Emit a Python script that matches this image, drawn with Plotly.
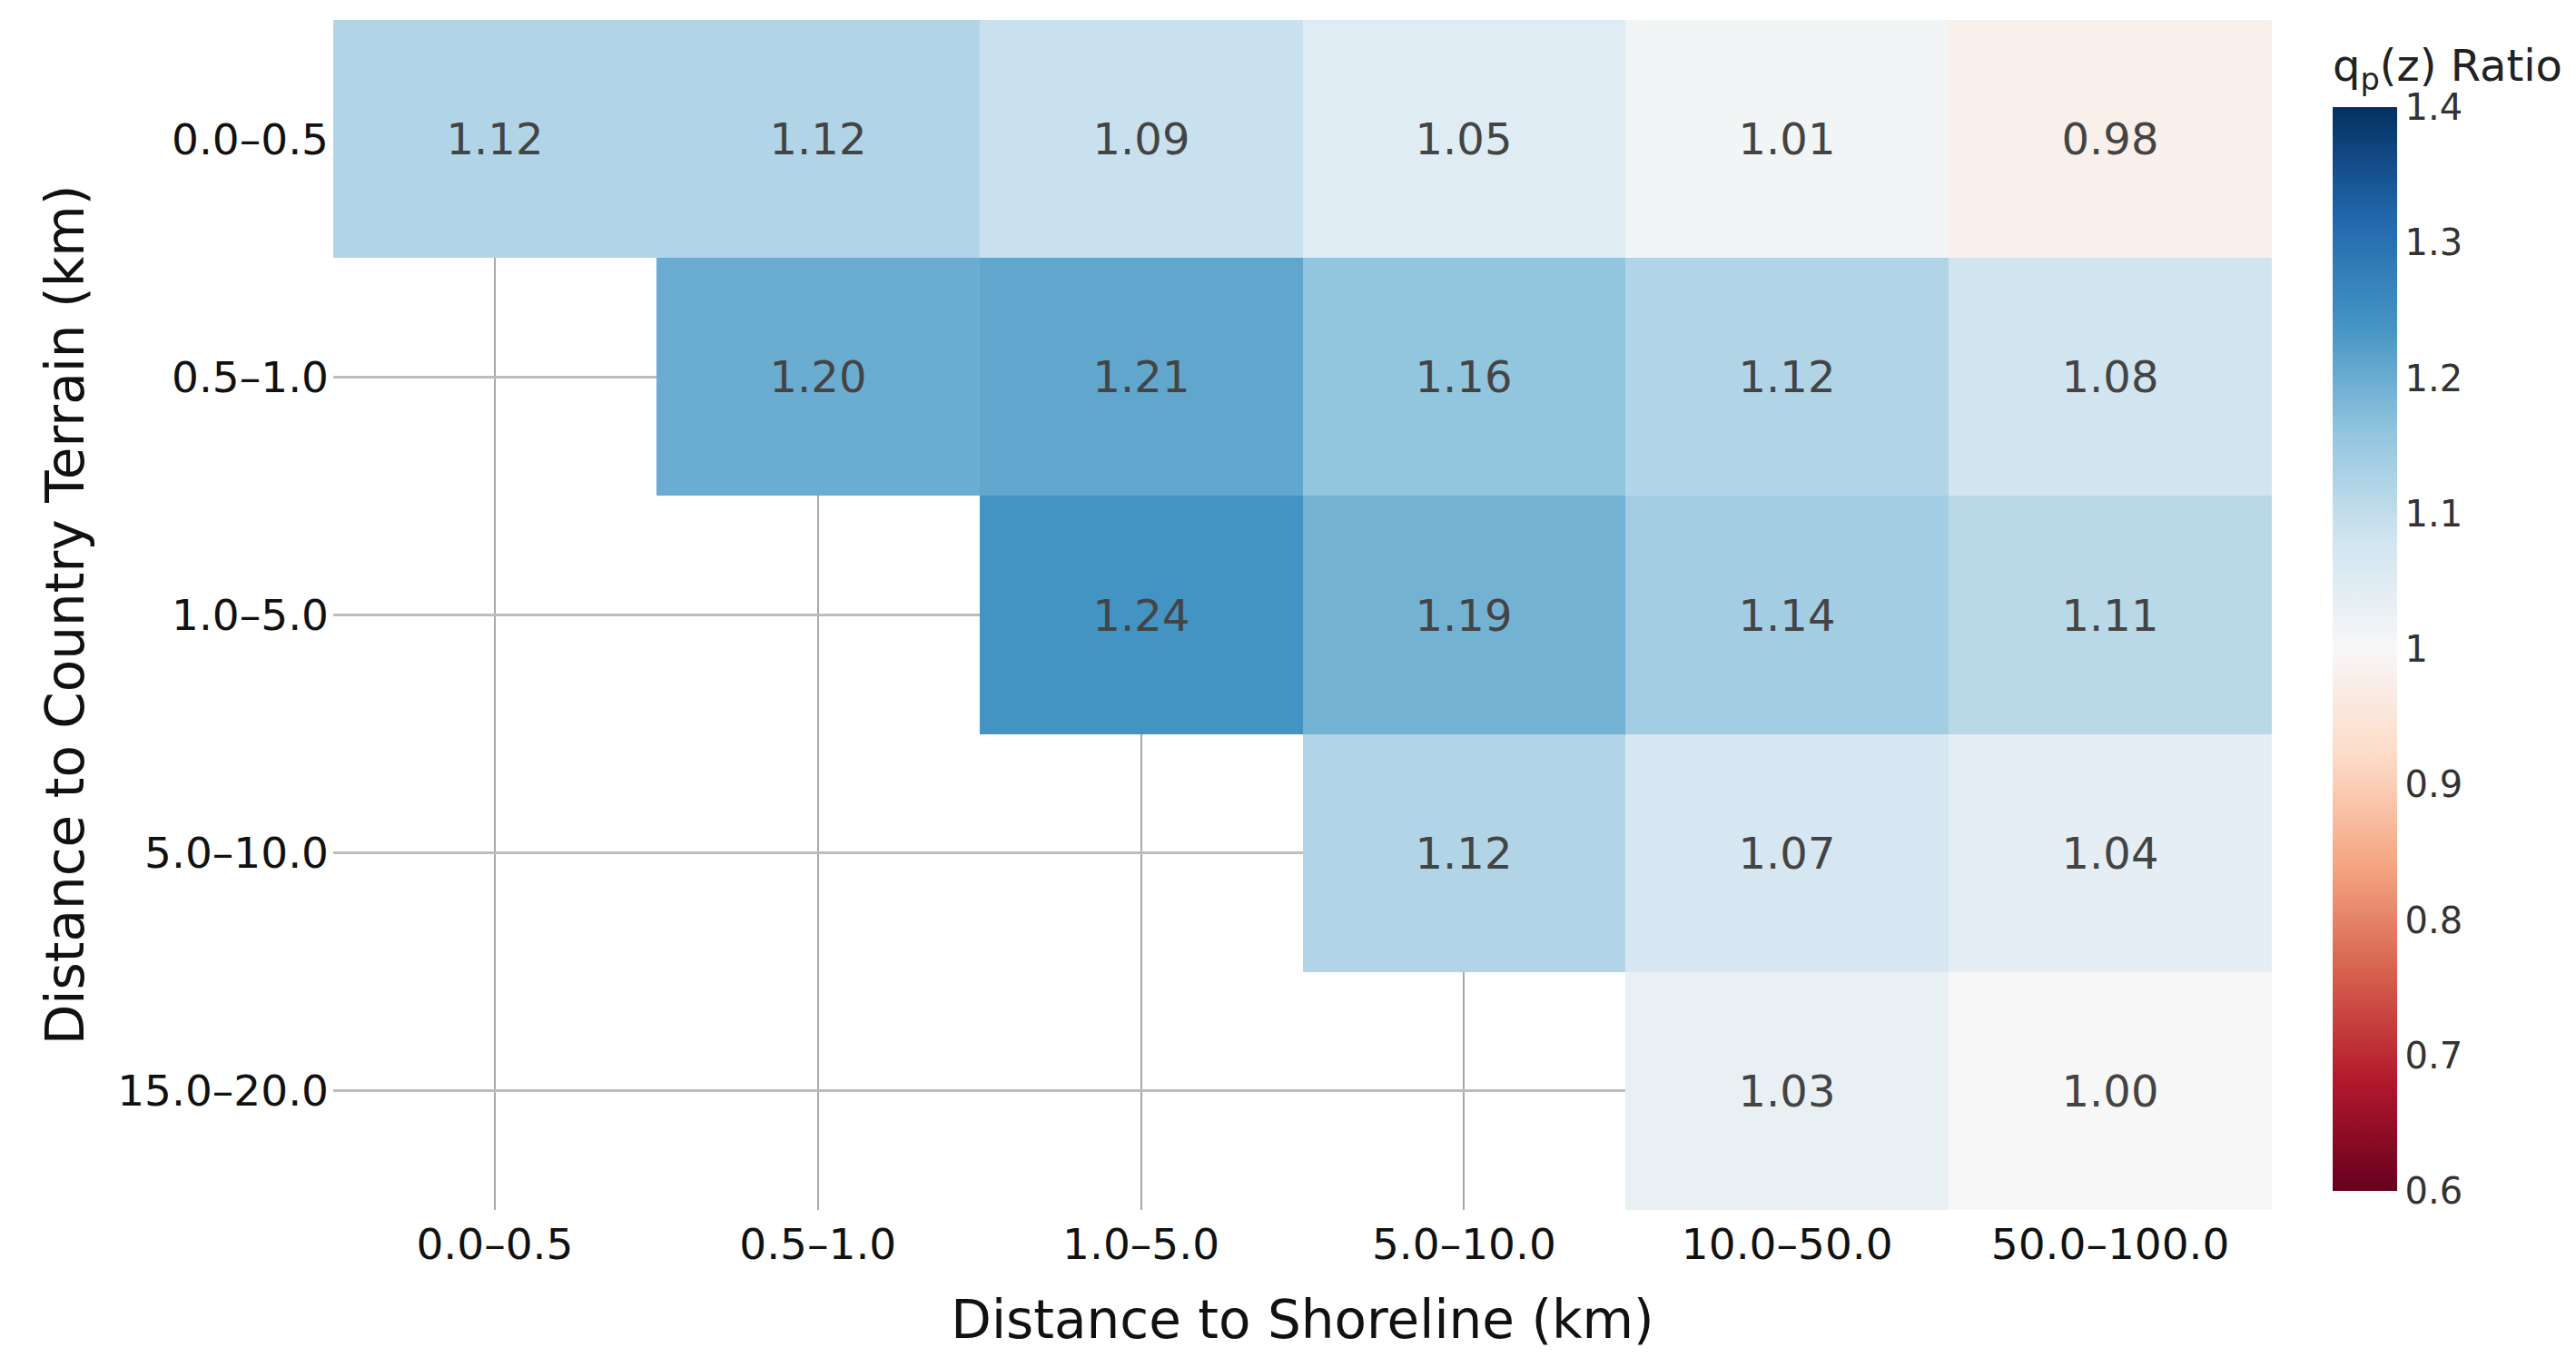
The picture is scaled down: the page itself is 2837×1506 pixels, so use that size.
import plotly.graph_objects as go
import plotly.colors as pc

x_labels = ["0.0–0.5", "0.5–1.0", "1.0–5.0", "5.0–10.0", "10.0–50.0", "50.0–100.0"]
y_labels = ["0.0–0.5", "0.5–1.0", "1.0–5.0", "5.0–10.0", "15.0–20.0"]

row_00_05 = [1.12, 1.12, 1.09, 1.05, 1.01, 0.98]
row_05_10 = [None, 1.20, 1.21, 1.16, 1.12, 1.08]
row_10_50 = [None, None, 1.24, 1.19, 1.14, 1.11]
row_50_100 = [None, None, None, 1.12, 1.07, 1.04]
row_150_200 = [None, None, None, None, 1.03, 1.00]

z_values = [row_00_05, row_05_10, row_10_50, row_50_100, row_150_200]

cbar_tickvals = [0.6, 0.7, 0.8, 0.9, 1.0, 1.1, 1.2, 1.3, 1.4]
cbar_ticktext = ["0.6", "0.7", "0.8", "0.9", "1", "1.1", "1.2", "1.3", "1.4"]

FONT = "DejaVu Sans"
W, H = 2837, 1506
ML, MR, MT, MB = 359, 343, 14, 181
plot_w = W - ML - MR
plot_h = H - MT - MB

fig = go.Figure(
    go.Heatmap(
        z=z_values,
        x=x_labels,
        y=y_labels,
        colorscale=pc.diverging.RdBu,
        zmin=0.6,
        zmax=1.4,
        texttemplate="%{z:.2f}",
        textfont=dict(family=FONT, size=48, color="#444444"),
        hoverongaps=False,
        xgap=0,
        ygap=0,
        colorbar=dict(
            title=dict(text="q<sub>p</sub>(z) Ratio", side="top",
                       font=dict(family=FONT, size=48, color="#222222")),
            tickvals=cbar_tickvals,
            ticktext=cbar_ticktext,
            tickfont=dict(family=FONT, size=40, color="#333333"),
            thickness=71,
            thicknessmode="pixels",
            lenmode="pixels",
            len=1262,
            yanchor="bottom",
            y=(1325 - 1304) / plot_h,
            xanchor="left",
            x=(2561 - ML) / plot_w,
            xpad=0,
            ypad=0,
            outlinewidth=0,
            ticks="",
            ticklabelposition="outside",
        ),
    )
)

fig.update_layout(
    width=W,
    height=H,
    margin=dict(l=ML, r=MR, t=MT, b=MB, autoexpand=False),
    plot_bgcolor="white",
    paper_bgcolor="white",
    font=dict(family=FONT, color="#111111"),
)

fig.update_xaxes(
    type="category",
    showgrid=True,
    gridcolor="#a8a8a8",
    gridwidth=2,
    zeroline=False,
    showline=False,
    ticks="",
    ticklabelstandoff=6,
    tickfont=dict(family=FONT, size=47, color="#111111"),
    title=dict(text="Distance to Shoreline (km)",
               font=dict(family=FONT, size=58, color="#111111"),
               standoff=36),
    automargin=False,
)

fig.update_yaxes(
    type="category",
    autorange="reversed",
    showgrid=True,
    gridcolor="#bdbdbd",
    gridwidth=3,
    zeroline=False,
    showline=False,
    ticks="",
    ticklabelstandoff=4,
    tickfont=dict(family=FONT, size=47, color="#111111"),
    title=dict(text="Distance to Country Terrain (km)",
               font=dict(family=FONT, size=58, color="#111111"),
               standoff=17),
    automargin=False,
)

fig.write_html("out.html")
